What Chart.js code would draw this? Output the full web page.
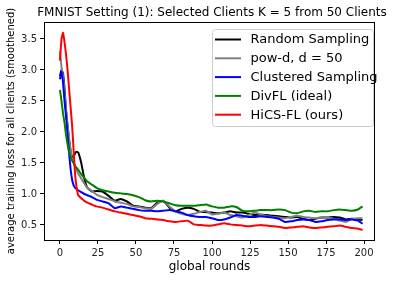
<!DOCTYPE html>
<html lang="en">
<head>
    <meta charset="UTF-8">
    <title>FMNIST Setting (1)</title>
    <script src="https://cdn.jsdelivr.net/npm/chart.js"></script>
    <style>
        body {
            margin: 0;
            background: white;
            font-family: 'DejaVu Sans', sans-serif;
        }
        .wrap {
            width: 393px;
            height: 281px;
            position: relative;
        }
    </style>
</head>
<body>
    <div class="wrap">
        <canvas id="lossChart"></canvas>
    </div>

    <script>
        const rounds = [0, 1, 2, 3, 4, 5, 6, 7, 8, 9, 10, 11, 12, 14, 16, 18, 21, 24, 28, 32, 36, 40, 44, 48, 52, 56, 60, 64, 68, 72, 76, 80, 84, 88, 92, 96, 100, 104, 108, 112, 116, 120, 124, 128, 132, 136, 140, 144, 148, 152, 156, 160, 164, 168, 172, 176, 180, 184, 188, 192, 196, 199];

        const randomSampling = [2.90, 3.00, 2.95, 2.70, 2.35, 2.10, 1.87, 1.70, 1.60, 1.60, 1.66, 1.68, 1.67, 1.50, 1.25, 1.10, 1.04, 1.05, 1.04, 0.97, 0.89, 0.92, 0.88, 0.81, 0.80, 0.78, 0.77, 0.86, 0.89, 0.78, 0.72, 0.76, 0.78, 0.76, 0.71, 0.71, 0.70, 0.69, 0.70, 0.72, 0.70, 0.70, 0.68, 0.66, 0.67, 0.66, 0.65, 0.64, 0.63, 0.62, 0.63, 0.60, 0.58, 0.60, 0.62, 0.62, 0.63, 0.62, 0.59, 0.60, 0.59, 0.58];
        const powD = [3.30, 3.05, 2.90, 2.65, 2.35, 2.10, 1.90, 1.70, 1.55, 1.50, 1.44, 1.38, 1.33, 1.25, 1.17, 1.10, 1.05, 0.99, 0.95, 0.92, 0.88, 0.86, 0.84, 0.80, 0.79, 0.77, 0.76, 0.84, 0.89, 0.80, 0.72, 0.68, 0.66, 0.68, 0.71, 0.73, 0.67, 0.68, 0.70, 0.66, 0.64, 0.62, 0.66, 0.70, 0.67, 0.64, 0.63, 0.62, 0.61, 0.63, 0.65, 0.63, 0.62, 0.61, 0.62, 0.62, 0.60, 0.57, 0.55, 0.60, 0.61, 0.61];
        const clustered = [2.85, 2.97, 2.80, 2.50, 2.25, 1.95, 1.66, 1.40, 1.23, 1.14, 1.10, 1.08, 1.06, 1.03, 1.00, 0.98, 0.95, 0.91, 0.88, 0.85, 0.77, 0.80, 0.78, 0.76, 0.74, 0.73, 0.73, 0.72, 0.73, 0.74, 0.72, 0.70, 0.66, 0.64, 0.63, 0.63, 0.61, 0.58, 0.59, 0.62, 0.66, 0.65, 0.63, 0.63, 0.64, 0.63, 0.62, 0.60, 0.55, 0.56, 0.58, 0.59, 0.58, 0.55, 0.56, 0.58, 0.59, 0.59, 0.58, 0.59, 0.57, 0.52];
        const divFL = [2.68, 2.50, 2.30, 2.15, 1.95, 1.80, 1.68, 1.60, 1.54, 1.50, 1.45, 1.42, 1.39, 1.32, 1.26, 1.20, 1.15, 1.10, 1.06, 1.04, 1.02, 1.01, 1.00, 0.98, 0.95, 0.90, 0.88, 0.89, 0.88, 0.85, 0.82, 0.81, 0.81, 0.81, 0.82, 0.83, 0.80, 0.78, 0.78, 0.80, 0.79, 0.73, 0.72, 0.73, 0.74, 0.74, 0.74, 0.75, 0.74, 0.70, 0.69, 0.72, 0.73, 0.71, 0.72, 0.72, 0.74, 0.75, 0.74, 0.73, 0.75, 0.80];
        const hicsFL = [3.15, 3.50, 3.60, 3.45, 3.25, 3.00, 2.70, 2.40, 2.10, 1.70, 1.30, 1.10, 0.98, 0.93, 0.89, 0.86, 0.83, 0.80, 0.78, 0.75, 0.72, 0.70, 0.68, 0.66, 0.64, 0.61, 0.60, 0.59, 0.58, 0.56, 0.55, 0.56, 0.57, 0.51, 0.50, 0.49, 0.49, 0.51, 0.53, 0.51, 0.50, 0.49, 0.48, 0.49, 0.50, 0.49, 0.48, 0.47, 0.45, 0.46, 0.47, 0.48, 0.46, 0.45, 0.46, 0.47, 0.48, 0.49, 0.47, 0.45, 0.44, 0.42];

        const seriesNames = ["Random Sampling", "pow-d, d = 50", "Clustered Sampling", "DivFL (ideal)", "HiCS-FL (ours)"];
        const seriesColors = ["#000000", "#808080", "#0000ff", "#008000", "#ff0000"];
        const xTicks = [0, 25, 50, 75, 100, 125, 150, 175, 200];
        const yTicks = [0.5, 1.0, 1.5, 2.0, 2.5, 3.0, 3.5];
        const chartTitle = "FMNIST Setting (1): Selected Clients K = 5 from 50 Clients";

        const allSeries = [randomSampling, powD, clustered, divFL, hicsFL];
        const font = "'DejaVu Sans', sans-serif";

        // title, spines + legend box drawn like matplotlib
        const frameAndLegend = {
            id: 'frameAndLegend',
            afterDraw(chart) {
                const ctx = chart.ctx;
                const a = chart.chartArea;
                ctx.save();
                ctx.fillStyle = '#000';
                ctx.font = '12px ' + font;
                ctx.textAlign = 'center';
                ctx.textBaseline = 'middle';
                ctx.fillText(chartTitle, 212, 13);

                ctx.strokeStyle = '#000';
                ctx.lineWidth = 1;
                ctx.strokeRect(Math.round(a.left) + 0.5, Math.round(a.top) + 0.5,
                    Math.round(a.right - a.left) - 1, Math.round(a.bottom - a.top));

                // legend
                const bx = 212.5, by = 29.5, bw = 161, bh = 97;
                ctx.beginPath();
                ctx.roundRect(bx, by, bw, bh, 3);
                ctx.fillStyle = 'rgba(255,255,255,0.8)';
                ctx.fill();
                ctx.strokeStyle = '#cccccc';
                ctx.stroke();
                ctx.font = '13px ' + font;
                ctx.textAlign = 'left';
                chart.data.datasets.forEach((ds, i) => {
                    const y = 39.5 + i * 18.8;
                    ctx.strokeStyle = ds.borderColor;
                    ctx.lineWidth = 2;
                    ctx.beginPath();
                    ctx.moveTo(215, y);
                    ctx.lineTo(241, y);
                    ctx.stroke();
                    ctx.fillStyle = '#000';
                    ctx.fillText(ds.label, 250.5, y + 0.5);
                });
                ctx.restore();
            }
        };

        const ctx = document.getElementById("lossChart").getContext("2d");
        new Chart(ctx, {
            type: 'line',
            data: {
                datasets: allSeries.map((vals, i) => ({
                    label: seriesNames[i],
                    data: rounds.map((r, j) => ({ x: r, y: vals[j] })),
                    borderColor: seriesColors[i],
                    borderWidth: 2,
                    pointRadius: 0,
                    tension: 0.1,
                    fill: false,
                    order: allSeries.length - i
                }))
            },
            options: {
                responsive: true,
                maintainAspectRatio: false,
                animation: false,
                layout: { padding: { right: 18, top: 22 } },
                plugins: {
                    legend: { display: false },
                    tooltip: { enabled: false },
                    title: { display: false }
                },
                scales: {
                    x: {
                        type: 'linear',
                        min: -10.5,
                        max: 207.2,
                        afterBuildTicks: s => { s.ticks = xTicks.map(v => ({ value: v })); },
                        afterFit: s => { s.height = 41; },
                        grid: { drawOnChartArea: false, drawTicks: true, tickLength: 4, color: '#000' },
                        border: { display: false },
                        ticks: { color: '#222', font: { family: font, size: 10 }, padding: 3, maxRotation: 0 },
                        title: {
                            display: true,
                            text: "global rounds",
                            color: '#000',
                            font: { family: font, size: 12 },
                            padding: { bottom: 7 }
                        }
                    },
                    y: {
                        min: 0.258,
                        max: 3.774,
                        afterBuildTicks: s => { s.ticks = yTicks.map(v => ({ value: v })); },
                        afterFit: s => { s.width = 44; },
                        grid: { drawOnChartArea: false, drawTicks: true, tickLength: 4, color: '#000' },
                        border: { display: false },
                        ticks: {
                            color: '#222',
                            font: { family: font, size: 10 },
                            padding: 3,
                            callback: v => v.toFixed(1)
                        },
                        title: {
                            display: true,
                            text: "average training loss for all clients (smoothened)",
                            color: '#000',
                            font: { family: font, size: 10 },
                            padding: { top: 5 }
                        }
                    }
                }
            },
            plugins: [frameAndLegend]
        });
    </script>
</body>
</html>
